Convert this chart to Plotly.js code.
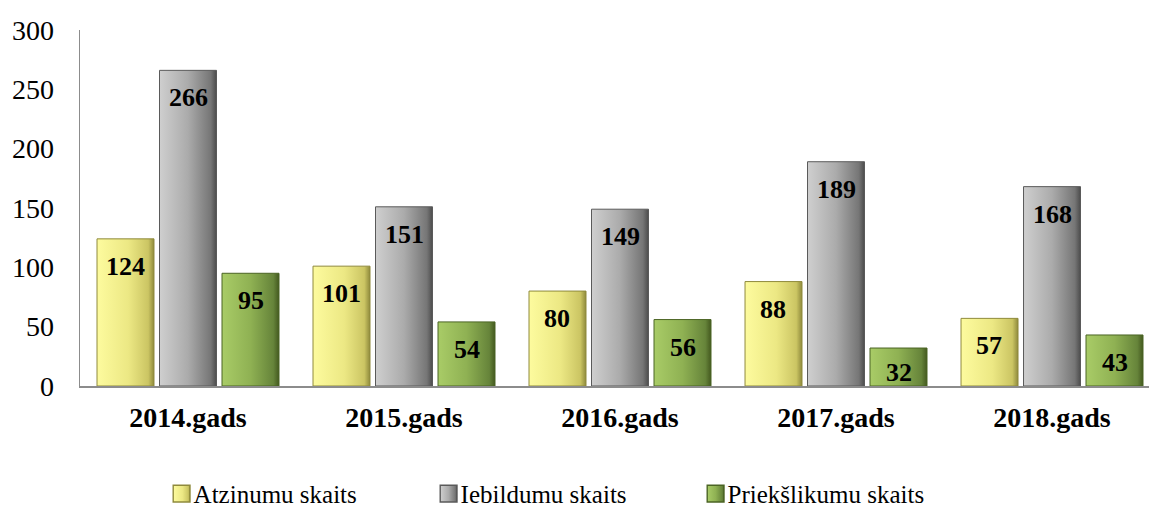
<!DOCTYPE html>
<html><head><meta charset="utf-8">
<script src="https://cdn.plot.ly/plotly-3.0.1.min.js"></script>
<style>html,body{margin:0;padding:0;background:#fff;font-family:"Times New Roman"}#chart{width:1149px;height:507px}</style>
</head><body><div id="chart"></div>
<script>
const categories = ["2014.gads","2015.gads","2016.gads","2017.gads","2018.gads"];
const seriesNames = ["Atzinumu skaits","Iebildumu skaits","Priekšlikumu skaits"];
const atzinumi = [124,101,80,88,57];
const iebildumi = [266,151,149,189,168];
const prieksl = [95,54,56,32,43];
const yTicks = [0,50,100,150,200,250,300];

const allSeries = [atzinumi, iebildumi, prieksl];
const baseColors = ["#eeea84","#a9a9a9","#8fb153"];
const edgeColors = ["#8f8a3c","#5a5a5a","#4b6424"];
const serif = "Times New Roman";

const traces = allSeries.map((vals,i)=>({
  type:"bar", name:seriesNames[i], x:categories, y:vals,
  marker:{color:baseColors[i], line:{color:edgeColors[i], width:1}},
  hoverinfo:"skip"
}));

const slot = 0.2895; // offset of bar centres, in category units
const annotations = [];
allSeries.forEach((vals,i)=>{
  vals.forEach((v,j)=>{
    annotations.push({
      x:j+(i-1)*slot, y:v, xref:"x", yref:"y", text:"<b>"+v+"</b>",
      showarrow:false, yanchor:"top", yshift: v<40 ? -8 : -11,
      font:{family:serif, size:26, color:"#000"}
    });
  });
});

const layout = {
  width:1149, height:507,
  font:{family:serif},
  margin:{l:80, r:0, t:30, b:121, autoexpand:false},
  paper_bgcolor:"#fff", plot_bgcolor:"#fff",
  barmode:"group", bargap:0.132, bargroupgap:0.088,
  showlegend:true,
  legend:{orientation:"h", x:0.4435, xanchor:"center", y:-0.303, yanchor:"middle",
          font:{family:serif, size:25, color:"#000"}, traceorder:"normal",
          entrywidth:222, entrywidthmode:"pixels"},
  xaxis:{type:"category", range:[-0.5, 4.449], showline:true, linecolor:"#8c8c8c", linewidth:2,
         ticks:"", showgrid:false, zeroline:false, automargin:false,
         tickfont:{family:serif, size:28, color:"#000", weight:"bold"}, ticklabelstandoff:5},
  yaxis:{range:[0,300], tickvals:yTicks, ticktext:yTicks.map(String), showline:true,
         linecolor:"#8c8c8c", linewidth:1.5, ticks:"", showgrid:false, zeroline:false, automargin:false,
         tickfont:{family:serif, size:28, color:"#000"}, ticklabelstandoff:19},
  annotations:annotations
};

Plotly.newPlot("chart", traces, layout, {displayModeBar:false, staticPlot:true}).then(()=>{
  const svg = document.querySelector("#chart svg.main-svg");
  const NS = "http://www.w3.org/2000/svg";
  const defs = svg.querySelector("defs");
  const stops = [
    [["0","#fdfb9e"],["0.55","#ece884"],["0.9","#cbc563"],["1","#8f8a3c"]],
    [["0","#cfcfcf"],["0.5","#ababab"],["0.9","#767676"],["1","#4c4c4c"]],
    [["0","#a9cc67"],["0.5","#8fb153"],["0.9","#66843a"],["1","#44591f"]]
  ];
  stops.forEach((st,i)=>{
    const g = document.createElementNS(NS,"linearGradient");
    g.setAttribute("id","bg"+i); g.setAttribute("x1","0"); g.setAttribute("x2","1");
    g.setAttribute("y1","0"); g.setAttribute("y2","0");
    st.forEach(s=>{const e=document.createElementNS(NS,"stop");e.setAttribute("offset",s[0]);e.setAttribute("stop-color",s[1]);g.appendChild(e);});
    defs.appendChild(g);
  });
  document.querySelectorAll("#chart .barlayer .trace").forEach((tr,i)=>{
    tr.querySelectorAll("path").forEach(p=>{p.style.fill="url(#bg"+i+")";});
  });
  document.querySelectorAll("#chart .legend .traces").forEach((tr,i)=>{
    tr.querySelectorAll(".legendpoints path").forEach(p=>{
      p.style.fill="url(#bg"+i+")";
      p.setAttribute("transform", (p.getAttribute("transform")||"") + " translate(8,0) scale(1.4)");
    });
  });
});
</script></body></html>
